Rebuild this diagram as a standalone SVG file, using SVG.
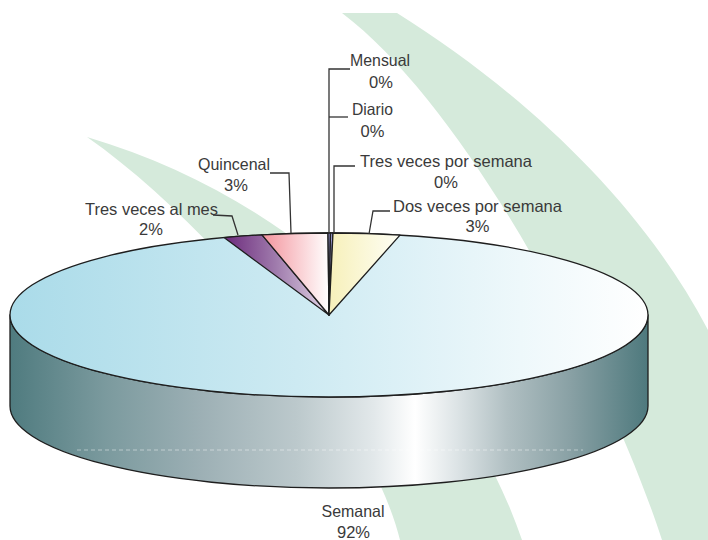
<svg xmlns="http://www.w3.org/2000/svg" width="708" height="540" viewBox="0 0 708 540">
<defs>
<style>
.lbl{font-family:"Liberation Sans",Arial,sans-serif;font-size:16.5px;fill:#3a3a3a;text-anchor:middle}
.lead{fill:none;stroke:#333;stroke-width:1.3}
.edge{stroke:#1e1e1e;stroke-width:1.3;stroke-linejoin:round}
.band{fill:#d5eadb}
</style>
<clipPath id="bgclip"><rect x="0" y="13" width="708" height="527"/></clipPath>
<linearGradient id="topGrad" gradientUnits="userSpaceOnUse" x1="10" y1="0" x2="648" y2="0">
<stop offset="0" stop-color="#aadbe9"/><stop offset="0.45" stop-color="#cdeaf2"/><stop offset="0.8" stop-color="#eef8fb"/><stop offset="1" stop-color="#ffffff"/>
</linearGradient>
<linearGradient id="sideGrad" gradientUnits="userSpaceOnUse" x1="10" y1="0" x2="648" y2="0">
<stop offset="0" stop-color="#4f7b7f"/><stop offset="0.15" stop-color="#7b9a9e"/><stop offset="0.3" stop-color="#9db0b5"/><stop offset="0.45" stop-color="#bcc9cc"/><stop offset="0.57" stop-color="#e2e8ea"/><stop offset="0.635" stop-color="#ffffff"/><stop offset="0.7" stop-color="#dde4e6"/><stop offset="0.78" stop-color="#b0bfc2"/><stop offset="0.88" stop-color="#88a0a4"/><stop offset="1" stop-color="#4e797d"/>
</linearGradient>
<linearGradient id="purpleGrad" gradientUnits="userSpaceOnUse" x1="224" y1="0" x2="329" y2="0">
<stop offset="0" stop-color="#6c2a7c"/><stop offset="0.5" stop-color="#a07cad"/><stop offset="1" stop-color="#e2d6e7"/>
</linearGradient>
<linearGradient id="pinkGrad" gradientUnits="userSpaceOnUse" x1="262" y1="0" x2="329" y2="0">
<stop offset="0" stop-color="#f3939c"/><stop offset="1" stop-color="#ffffff"/>
</linearGradient>
<linearGradient id="yellowGrad" gradientUnits="userSpaceOnUse" x1="333" y1="0" x2="400" y2="0">
<stop offset="0" stop-color="#f7f1bd"/><stop offset="1" stop-color="#fefef5"/>
</linearGradient>
</defs>
<rect x="0" y="0" width="708" height="540" fill="#ffffff"/>
<g id="background" clip-path="url(#bgclip)">
<path class="band" d="M342,13 L397,13 C520,90 640,200 708,330 L708,540 L662,540 C610,380 470,110 342,13 Z"/>
<path class="band" d="M87,137 C300,200 460,360 522,540 L400,540 C370,420 220,230 87,137 Z"/>
</g>
<g id="pie">
<g id="side">
<path class="edge" fill="url(#sideGrad)" d="M10,315 L10,406 A319,82 0 0,0 648,406 L648,315 A319,82 0 0,1 10,315 Z"/>
<line x1="77" y1="450" x2="583" y2="450" stroke="#ffffff" stroke-opacity="0.45" stroke-width="1" stroke-dasharray="4 3"/>
</g>
<g id="slice-semanal">
<ellipse class="edge" cx="329" cy="315" rx="319" ry="82" fill="url(#topGrad)"/>
</g>
<g id="slice-tres-veces-al-mes">
<path class="edge" fill="url(#purpleGrad)" d="M329,315 L224,237.6 A319,82 0 0,1 262,234.8 Z"/>
</g>
<g id="slice-quincenal">
<path class="edge" fill="url(#pinkGrad)" d="M329,315 L262,234.8 A319,82 0 0,1 328,233 Z"/>
</g>
<g id="slice-mensual-diario">
<path class="edge" fill="#8e8dc9" stroke-width="0.8" d="M329,315 L328,233 L330.5,233 Z"/>
</g>
<g id="slice-tres-veces-por-semana">
<path class="edge" fill="#9b9ad2" stroke-width="0.8" d="M329,315 L330.5,233 L333,233 Z"/>
</g>
<g id="slice-dos-veces-por-semana">
<path class="edge" fill="url(#yellowGrad)" d="M329,315 L333,233 A319,82 0 0,1 400,235.1 Z"/>
</g>
</g>
<g id="connectors">
<polyline class="lead" points="213,215 232,216 238,235"/>
<polyline class="lead" points="270,173 289,173 291,233"/>
<polyline class="lead" points="350,69 329,69 329,233"/>
<line class="lead" x1="329" y1="117" x2="348" y2="117"/>
<polyline class="lead" points="355,166 334,166 334,233"/>
<polyline class="lead" points="390,211 373,211 369,234"/>
</g>
<g id="label-mensual"><text class="lbl" x="380" y="66" textLength="60" lengthAdjust="spacingAndGlyphs">Mensual</text><text class="lbl" x="381" y="88">0%</text></g>
<g id="label-diario"><text class="lbl" x="372.5" y="115" textLength="41" lengthAdjust="spacingAndGlyphs">Diario</text><text class="lbl" x="372.5" y="137">0%</text></g>
<g id="label-tres-veces-por-semana"><text class="lbl" x="446" y="167" textLength="172" lengthAdjust="spacingAndGlyphs">Tres veces por semana</text><text class="lbl" x="446" y="188">0%</text></g>
<g id="label-dos-veces-por-semana"><text class="lbl" x="477.5" y="212" textLength="169" lengthAdjust="spacingAndGlyphs">Dos veces por semana</text><text class="lbl" x="477.5" y="232">3%</text></g>
<g id="label-quincenal"><text class="lbl" x="234" y="170" textLength="72" lengthAdjust="spacingAndGlyphs">Quincenal</text><text class="lbl" x="236" y="191">3%</text></g>
<g id="label-tres-veces-al-mes"><text class="lbl" x="151.5" y="215" textLength="133" lengthAdjust="spacingAndGlyphs">Tres veces al mes</text><text class="lbl" x="151" y="235">2%</text></g>
<g id="label-semanal"><text class="lbl" x="353" y="517" textLength="63" lengthAdjust="spacingAndGlyphs">Semanal</text><text class="lbl" x="353.5" y="538">92%</text></g>
</svg>
